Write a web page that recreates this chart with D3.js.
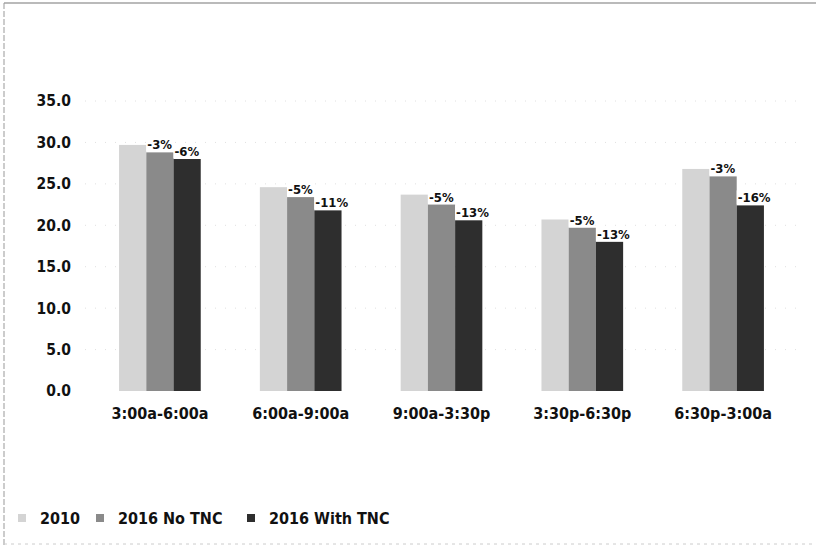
<!DOCTYPE html>
<html>
<head>
<meta charset="utf-8">
<script src="https://cdn.jsdelivr.net/npm/d3@7"></script>
<style>
  body { margin: 0; background: #fff; }
  svg text { font-family: "DejaVu Sans Condensed", "Roboto", sans-serif; font-weight: bold; fill: #111; }
</style>
</head>
<body>
<svg id="chart" width="816" height="551"></svg>
<script>
// data
var periods = ["3:00a-6:00a", "6:00a-9:00a", "9:00a-3:30p", "3:30p-6:30p", "6:30p-3:00a"];
var seriesNames = ["2010", "2016 No TNC", "2016 With TNC"];
var v2010 = [29.7, 24.6, 23.7, 20.7, 26.8];
var vNoTnc = [28.8, 23.4, 22.5, 19.7, 25.9];
var vWithTnc = [28.0, 21.8, 20.6, 18.0, 22.4];
var labelsNoTnc = ["-3%", "-5%", "-5%", "-5%", "-3%"];
var labelsWithTnc = ["-6%", "-11%", "-13%", "-13%", "-16%"];
var yTicks = [0, 5, 10, 15, 20, 25, 30, 35];

var colors = ["#d4d4d4", "#8a8a8a", "#2e2e2e"];

var svg = d3.select("#chart");

// scanned page frame
svg.append("line").attr("x1", 4).attr("y1", 3).attr("x2", 816).attr("y2", 3)
    .style("stroke", "#777").style("stroke-width", 1.2);
svg.append("line").attr("x1", 4).attr("y1", 3).attr("x2", 4).attr("y2", 545)
    .style("stroke", "#999").style("stroke-dasharray", "6,2");
svg.append("line").attr("x1", 4).attr("y1", 544).attr("x2", 816).attr("y2", 544)
    .style("stroke", "#ccc").style("stroke-dasharray", "3,4");

var x0 = d3.scaleBand().domain(periods).range([89.5, 793.5])
    .paddingInner(0.42).paddingOuter(0.21);
var x1 = d3.scaleBand().domain(seriesNames).range([0, x0.bandwidth()]);
var y = d3.scaleLinear().domain([0, 35]).range([391, 101]);

// faint dotted gridlines
svg.append("g").selectAll("line").data(yTicks.slice(1)).join("line")
    .attr("x1", 85).attr("x2", 800)
    .attr("y1", d => y(d)).attr("y2", d => y(d))
    .style("stroke", "#e0e0e0").style("stroke-dasharray", "1,9");

var yAxis = d3.axisLeft(y).tickValues(yTicks).tickFormat(d3.format(".1f")).tickSize(0).tickPadding(0);
svg.append("g").attr("transform", "translate(71,0)").call(yAxis)
    .call(g => g.select(".domain").remove())
    .selectAll("text").style("font-size", "15.5px");

var xAxis = d3.axisBottom(x0).tickSize(0).tickPadding(0);
svg.append("g").attr("transform", "translate(0,408)").call(xAxis)
    .call(g => g.select(".domain").remove())
    .selectAll("text").style("font-size", "16px");

var rows = periods.map((p, i) => ({ period: p, vals: [v2010[i], vNoTnc[i], vWithTnc[i]] }));

var groups = svg.append("g").selectAll("g").data(rows).join("g")
    .attr("transform", d => "translate(" + x0(d.period) + ",0)");

groups.selectAll("rect").data(d => d.vals.map((v, k) => ({ k: k, v: v }))).join("rect")
    .attr("x", d => x1(seriesNames[d.k]))
    .attr("y", d => y(d.v))
    .attr("width", x1.bandwidth())
    .attr("height", d => y(0) - y(d.v))
    .style("fill", d => colors[d.k]);

// change labels above the 2016 bars
function addLabel(g, text, k, v) {
    var lx = x1(seriesNames[k]) + 1;
    var ly = y(v) - 3;
    var t = g.append("text").attr("x", lx).attr("y", ly)
        .style("font-size", "13px").text(text);
    var bb = t.node().getBBox();
    g.insert("rect", "text").attr("x", bb.x - 1).attr("y", bb.y)
        .attr("width", bb.width + 2).attr("height", bb.height - 1)
        .style("fill", "#fff");
}
groups.each(function (d, i) {
    var g = d3.select(this);
    addLabel(g, labelsNoTnc[i], 1, vNoTnc[i]);
    addLabel(g, labelsWithTnc[i], 2, vWithTnc[i]);
});

// legend
var legendX = [18, 96, 247];
var legend = svg.append("g").selectAll("g").data(seriesNames).join("g")
    .attr("transform", (d, i) => "translate(" + legendX[i] + ",518)");
legend.append("rect").attr("x", 0).attr("y", -4).attr("width", 8).attr("height", 8)
    .style("fill", (d, i) => colors[i]);
legend.append("text").attr("x", 22).attr("dy", "0.35em")
    .style("font-size", "16px").text(d => d);
</script>
</body>
</html>
